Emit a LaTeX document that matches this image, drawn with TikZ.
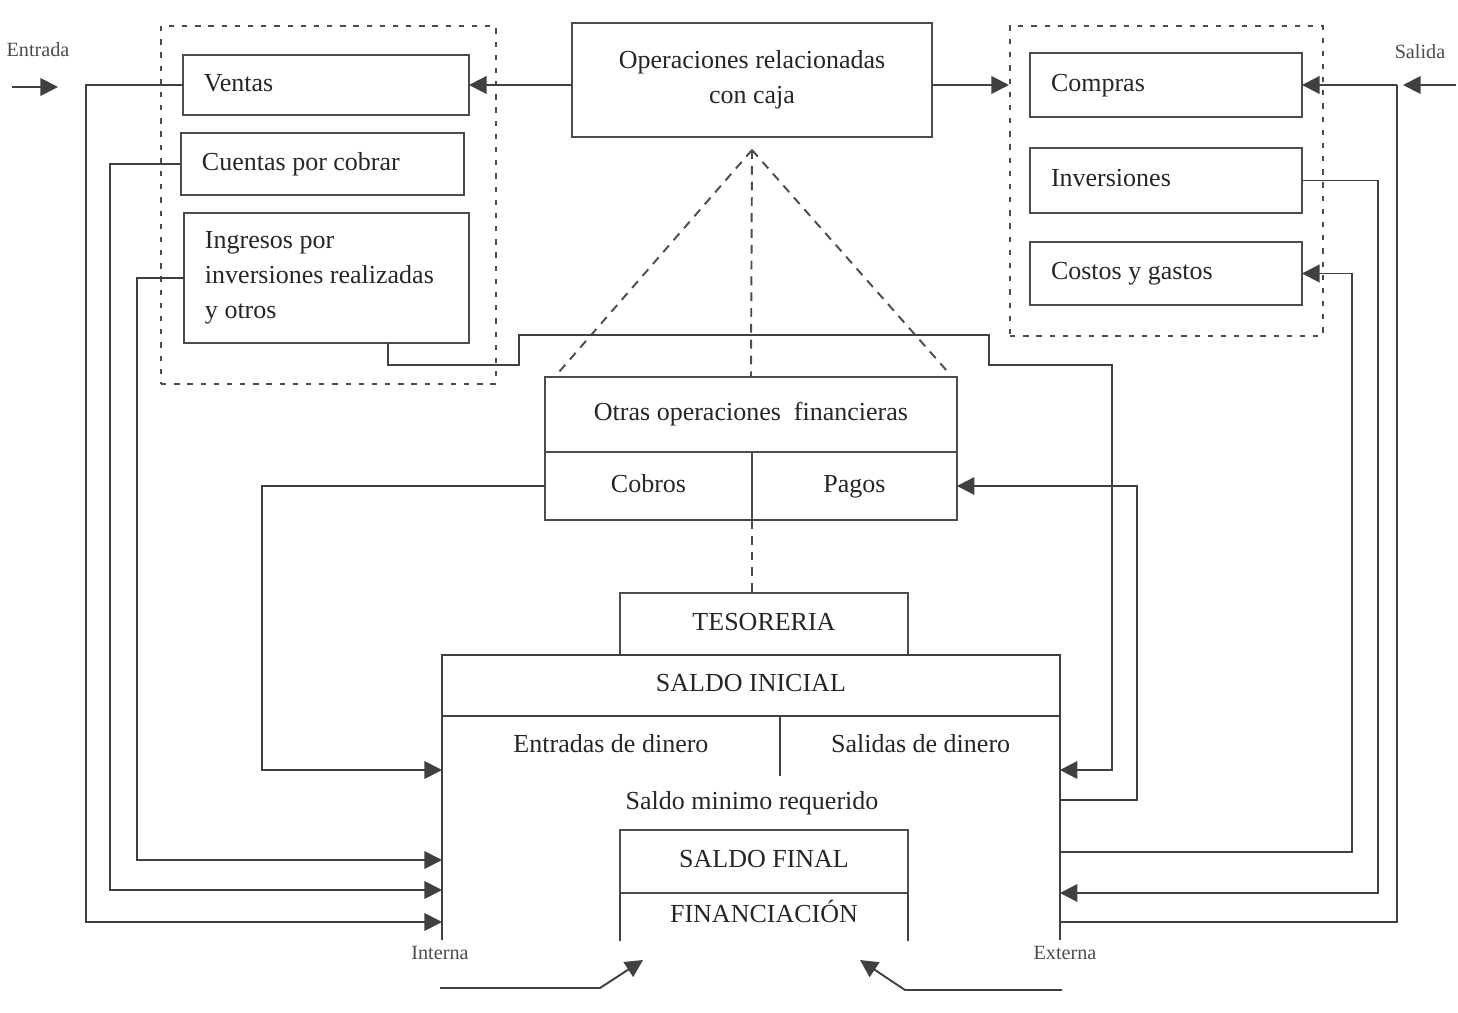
\documentclass[tikz,border=0pt]{standalone}
\usepackage{fontspec}
\setmainfont{Liberation Serif}
\usepackage{tikz}
\usetikzlibrary{calc,arrows.meta,positioning}
\tikzset{
  box/.style={draw=black!70,line width=1.1pt,inner sep=0pt,outer sep=0pt,align=center},
  cell/.style={text height=10pt,text depth=3pt},
  itembox/.style={box,anchor=north west,align=flush left,text width=#1,inner xsep=0.42cm},
  group/.style={draw=black!70,line width=1.2pt,dash pattern=on 3pt off 4.5pt,anchor=north west,inner sep=0pt},
  relation/.style={draw=black!70,line width=1.1pt,dash pattern=on 5pt off 4pt},
  link/.style={draw=black!75,line width=1.1pt},
  tag/.style={font=\fontsize{11.5}{13}\selectfont,text=black!70},
  every node/.style={font=\fontsize{14.8}{20}\selectfont,text=black!85}
}
\tikzstyle{arrow} = [link,-{Triangle[length=10pt,width=10pt]}]

\begin{document}
\begin{tikzpicture}[x=0.02cm,y=-0.02cm]
  \useasboundingbox (0,0) rectangle (1458,1013);
  % groups of operations
  \node[group,minimum width=6.7cm,minimum height=7.16cm] (grpin) at (160,25) {};
  \node[group,minimum width=6.26cm,minimum height=6.2cm] (grpout) at (1009,25) {};
  \node[itembox=4.88cm,cell,minimum height=1.2cm] (ventas) at (183,55) {Ventas};
  \node[itembox=4.82cm,cell,minimum height=1.24cm] (cuentas) at (181,133) {Cuentas por cobrar};
  \node[itembox=4.86cm,minimum height=2.6cm] (ingresos) at (184,213) {Ingresos por\\inversiones realizadas\\y otros};
  \node[itembox=4.6cm,cell,minimum height=1.28cm] (compras) at (1030,53) {Compras};
  \node[itembox=4.6cm,cell,minimum height=1.3cm] (inversiones) at (1030,148) {Inversiones};
  \node[itembox=4.6cm,cell,minimum height=1.26cm] (costos) at (1030,242) {Costos y gastos};
  \node[box,minimum width=7.2cm,minimum height=2.28cm] (ops) at (752,80) {Operaciones relacionadas\\con caja};
  % other financial operations
  \node[box,cell,anchor=north west,minimum width=8.24cm,minimum height=1.5cm] (otras) at (545,377) {Otras operaciones\ \ financieras};
  \node[box,cell,anchor=north west,minimum width=4.14cm,minimum height=1.36cm] (cobros) at (otras.south west) {Cobros};
  \node[box,cell,anchor=north west,minimum width=4.1cm,minimum height=1.36cm] (pagos) at (cobros.north east) {Pagos};
  % treasury
  \node[box,cell,anchor=south,minimum width=5.76cm,minimum height=1.24cm] (tes) at (764,655) {TESORERIA};
  \node[anchor=north west,minimum width=12.36cm,minimum height=5.7cm,inner sep=0pt,outer sep=0pt] (caja) at (442,655) {};
  \draw[link] (caja.south west) |- (caja.north east) -- (caja.south east);
  \node[cell,anchor=north,minimum width=12.36cm,minimum height=1.2cm,inner sep=0pt] (inicial) at (caja.north) {SALDO INICIAL};
  \draw[link] (inicial.south west) -- (inicial.south east);
  \node[cell,anchor=north west,minimum width=6.76cm,minimum height=1.2cm,inner sep=0pt] (entradas) at (inicial.south west) {Entradas de dinero};
  \node[cell,anchor=north west,minimum width=5.6cm,minimum height=1.2cm,inner sep=0pt] (salidas) at (entradas.north east) {Salidas de dinero};
  \draw[link] (entradas.north east) -- (entradas.south east);
  \node (minimo) at (752,803) {Saldo minimo requerido};
  \node[box,cell,anchor=north,minimum width=5.76cm,minimum height=1.26cm] (final) at (764,830) {SALDO FINAL};
  \node[cell,anchor=north,minimum width=5.76cm,minimum height=0.94cm,inner sep=0pt] (fin) at (final.south) {FINANCIACIÓN};
  \draw[link] (fin.south west) -- (fin.north west) (fin.north east) -- (fin.south east);
  % side labels
  \node[tag] (entrada) at (38,50) {Entrada};
  \node[tag] (salida) at (1420,52) {Salida};
  \node[tag] (interna) at (440,953) {Interna};
  \node[tag] (externa) at (1065,953) {Externa};
  \coordinate (entA) at (12,87);
  \coordinate (entB) at (58,87);
  \coordinate (salA) at (1456,85);
  \coordinate (salB) at (1403,85);
  \coordinate (salj) at (1397,85);
  \coordinate (apex) at ($(ops.south)+(0,13)$);
  % top arrows
  \draw[arrow] (entA) -- (entB);
  \draw[arrow] (salA) -- (salB);
  \draw[arrow] (ops.west |- ventas.east) -- (ventas.east);
  \draw[arrow] (ops.east |- compras.west) -- (grpout.west |- compras.west);
  \draw[arrow] (salj) -- (compras.east);
  % relations
  \draw[relation] (apex) -- ($(otras.north west)+(14,-5)$);
  \draw[relation] (apex) -- (otras.north);
  \draw[relation] (apex) -- ($(otras.north east)+(-9,-5)$);
  \draw[relation] (cobros.south east) -- (cobros.south east |- tes.north);
  % left rails
  \draw[arrow] (ventas.west) -| (86,922) -- (caja.west |- 0,922);
  \draw[arrow] (cuentas.west) -| (110,890) -- (caja.west |- 0,890);
  \draw[arrow] (ingresos.west) -| (137,860) -- (caja.west |- 0,860);
  \draw[arrow] (cobros.west) -| (262,770) -- (caja.west |- 0,770);
  % right rails
  \draw[arrow] ($(ingresos.south west)!0.716!(ingresos.south east)$) |- (519,365) |- (989,335) |- (1112,365) |- (caja.east |- 0,770);
  \draw[arrow] (caja.east |- 0,800) -| (pagos.east -| 1137,0) -- (pagos.east);
  \draw[arrow] (caja.east |- 0,852) -| (costos.east -| 1352,0) -- (costos.east);
  \draw[arrow] (inversiones.east) -| (1378,893) -- (caja.east |- 0,893);
  \draw[link] (caja.east |- 0,922) -| (salj);
  % financing
  \coordinate (intA) at (440,988);
  \coordinate (intB) at (600,988);
  \coordinate (intC) at (643,960);
  \coordinate (extA) at (1062,990);
  \coordinate (extB) at (905,990);
  \coordinate (extC) at (860,960);
  \draw[arrow] (intA) -- (intB) -- (intC);
  \draw[arrow] (extA) -- (extB) -- (extC);
\end{tikzpicture}
\end{document}
